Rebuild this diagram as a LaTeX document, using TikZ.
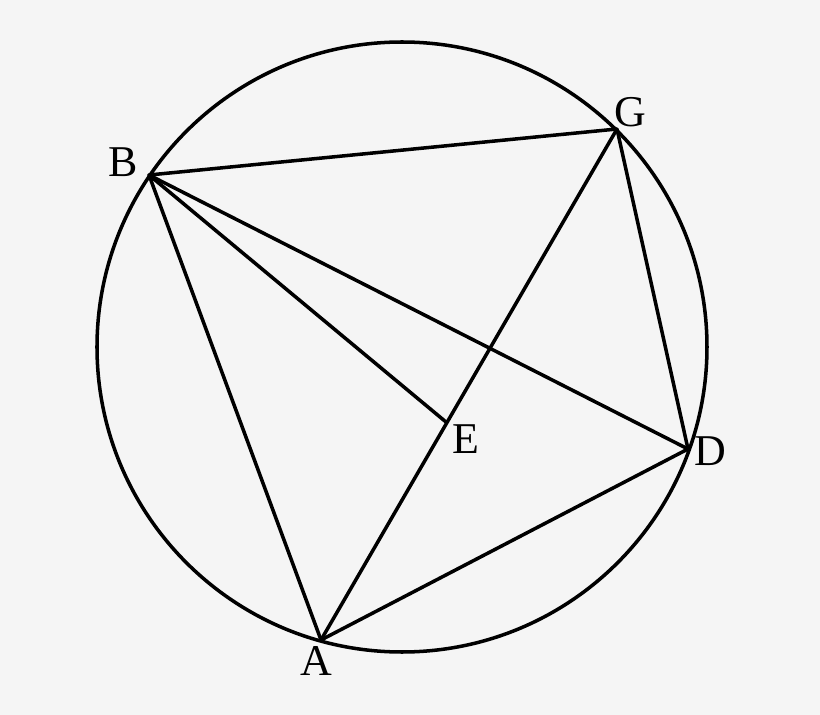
\documentclass[tikz,border=0pt]{standalone}
\usepackage{fontspec}
\setmainfont{Liberation Serif}
\usepackage{tikz}
\begin{document}
\begin{tikzpicture}[x=0.01cm,y=-0.01cm]

\tikzset{chord/.style={line width=1pt, line join=round},
  ptlabel/.style={font=\fontsize{12.5}{14}\selectfont, inner sep=0pt}}
\definecolor{paper}{RGB}{245,245,245}
\fill[paper] (0,0) rectangle (820,715);
\useasboundingbox (0,0) rectangle (820,715);

\coordinate (O) at (402,347);
\coordinate (B) at (149,175);
\coordinate (G) at (617,129);
\coordinate (D) at (688,449);
\coordinate (A) at (321,640);
\coordinate (E) at (446,422);

\draw[chord] (O) circle [radius=305];
\draw[chord] (B) -- (G) -- (D) -- (A) -- cycle;
\draw[chord] (B) -- (E);
\draw[chord] (B) -- (D);
\draw[chord] (A) -- (G);

\node[ptlabel] (labB) at (123,162) {B};
\node[ptlabel] (labG) at (630,112) {G};
\node[ptlabel] (labE) at (466,439) {E};
\node[ptlabel] (labD) at (710,451) {D};
\node[ptlabel] (labA) at (316,661) {A};
\end{tikzpicture}
\end{document}
